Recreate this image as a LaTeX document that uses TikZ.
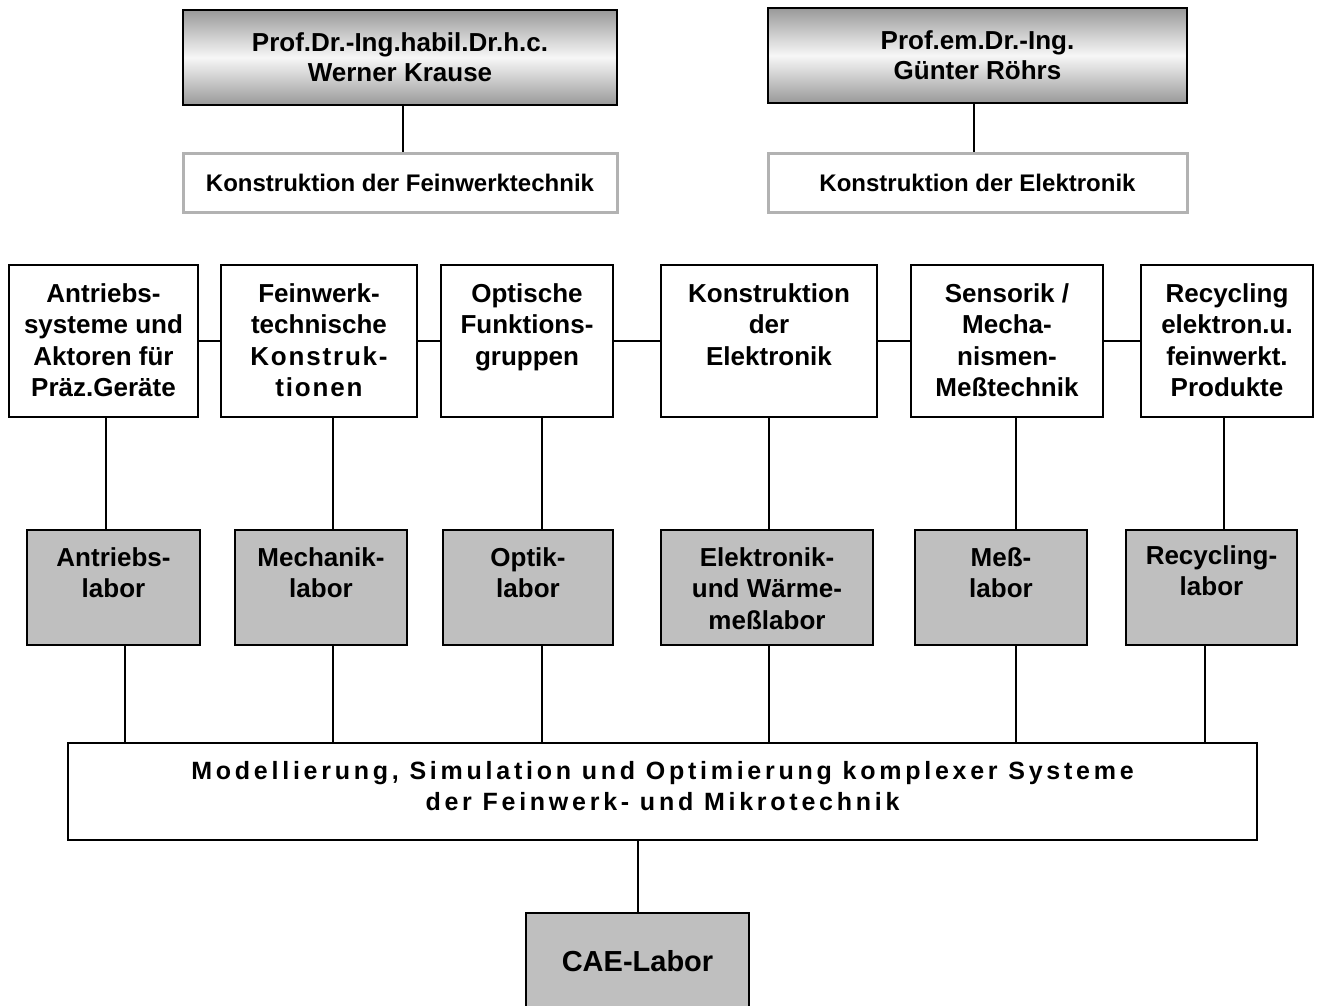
\documentclass[tikz,border=0pt]{standalone}
\usepackage{fontspec}
\setmainfont{Liberation Sans}
\newfontfamily\spacedfont{Liberation Sans}[LetterSpace=15]
\newfontfamily\lspacedfont{Liberation Sans}[LetterSpace=7]
\begin{document}
\begin{tikzpicture}[x=1pt,y=-1pt,
  profbox/.style={draw=black, line width=2pt, top color=gray!80, bottom color=gray!80, middle color=gray!6, minimum width=#1, minimum height=95pt, inner sep=0pt, align=center, font=\fontsize{26}{30}\selectfont\bfseries},
  chairbox/.style={draw=gray!60, line width=3pt, fill=white, minimum width=#1, minimum height=59pt, inner sep=0pt, font=\fontsize{24}{28}\selectfont\bfseries},
  rowbox/.style={draw=black, line width=2pt, fill=white, minimum width=#1, minimum height=152pt, inner sep=0pt},
  labbox/.style={draw=black, line width=2pt, fill=gray!50, minimum width=#1, minimum height=115pt, inner sep=0pt},
  boxtxt/.style={anchor=north, inner sep=0pt, align=center, font=\fontsize{26}{31.5}\selectfont\bfseries},
  conn/.style={draw=black, line width=1.4pt}
]
\useasboundingbox (0,0) rectangle (1318,1005);

% top
\node[profbox=434pt] (p1) at (400,57.5) {Prof.Dr.-Ing.habil.Dr.h.c.\\Werner Krause};
\node[chairbox=434pt] (k1) at (400,182.5) {Konstruktion der Feinwerktechnik};
\node[profbox=419pt] (p2) at (977.5,55.5) {Prof.em.Dr.-Ing.\\Günter Röhrs};
\node[chairbox=419pt] (k2) at (977.5,182.5) {Konstruktion der Elektronik};
\coordinate (x1) at (403,0);
\coordinate (x2) at (974,0);
\draw[conn] (x1 |- p1.south) -- (x1 |- k1.north);
\draw[conn] (x2 |- p2.south) -- (x2 |- k2.north);

% row boxes
\node[rowbox=189pt] (r1) at (103.5,341) {};
\node[rowbox=196pt] (r2) at (319,341) {};
\node[rowbox=172pt] (r3) at (527,341) {};
\node[rowbox=216pt] (r4) at (769,341) {};
\node[rowbox=192pt] (r5) at (1007,341) {};
\node[rowbox=172pt] (r6) at (1227,341) {};
\node[boxtxt] (t1) at ([yshift=-19pt]r1.north) {Antriebs-\\systeme und\\Aktoren für\\Präz.Geräte};
\node[boxtxt] (t2) at ([yshift=-19pt]r2.north) {Feinwerk-\\technische\\{\lspacedfont\bfseries Konstruk-}\\{\lspacedfont\bfseries tionen}};
\node[boxtxt] (t3) at ([yshift=-19pt]r3.north) {Optische\\Funktions-\\gruppen};
\node[boxtxt] (t4) at ([yshift=-19pt]r4.north) {Konstruktion\\der\\Elektronik};
\node[boxtxt] (t5) at ([yshift=-19pt]r5.north) {Sensorik /\\Mecha-\\nismen-\\Meßtechnik};
\node[boxtxt] (t6) at ([yshift=-19pt]r6.north) {Recycling\\elektron.u.\\feinwerkt.\\Produkte};
\draw[conn] (r1.east) -- (r2.west);
\draw[conn] (r2.east) -- (r3.west);
\draw[conn] (r3.east) -- (r4.west);
\draw[conn] (r4.east) -- (r5.west);
\draw[conn] (r5.east) -- (r6.west);

% labs
\node[labbox=173pt] (l1) at (113.5,587.5) {};
\node[labbox=172pt] (l2) at (321,587.5) {};
\node[labbox=170pt] (l3) at (528,587.5) {};
\node[labbox=212pt] (l4) at (767,587.5) {};
\node[labbox=172pt] (l5) at (1001,587.5) {};
\node[labbox=171pt] (l6) at (1211.5,587.5) {};
\node[boxtxt] (u1) at ([yshift=-18pt]l1.north) {Antriebs-\\labor};
\node[boxtxt] (u2) at ([yshift=-18pt]l2.north) {Mechanik-\\labor};
\node[boxtxt] (u3) at ([yshift=-18pt]l3.north) {Optik-\\labor};
\node[boxtxt] (u4) at ([yshift=-18pt]l4.north) {Elektronik-\\und Wärme-\\meßlabor};
\node[boxtxt] (u5) at ([yshift=-18pt]l5.north) {Meß-\\labor};
\node[boxtxt] (u6) at ([yshift=-16pt]l6.north) {Recycling-\\labor};

% model and CAE
\node[draw=black, line width=2pt, fill=white, minimum width=1189pt, minimum height=97pt, inner sep=0pt] (m) at (662.5,791.5) {};
\node[anchor=north, inner sep=0pt, align=center, font=\fontsize{25}{31}\spacedfont\bfseries] (mt) at ([yshift=-19pt]m.north) {Modellierung, Simulation und Optimierung komplexer Systeme\\der Feinwerk- und Mikrotechnik};
\node[draw=black, line width=2pt, fill=gray!50, minimum width=223pt, minimum height=96pt, inner sep=0pt, font=\fontsize{29}{32}\selectfont\bfseries] (cae) at (637.5,961) {CAE-Labor};
\coordinate (x3) at (638,0);
\draw[conn] (x3 |- m.south) -- (x3 |- cae.north);

% vertical connectors
\coordinate (a1) at (106,0);
\coordinate (a2) at (333,0);
\coordinate (a3) at (542,0);
\coordinate (a4) at (769,0);
\coordinate (a5) at (1016,0);
\coordinate (a6) at (1224,0);
\coordinate (b1) at (125,0);
\coordinate (b6) at (1205,0);
\draw[conn] (a1 |- r1.south) -- (a1 |- l1.north);
\draw[conn] (a2 |- r2.south) -- (a2 |- l2.north);
\draw[conn] (a3 |- r3.south) -- (a3 |- l3.north);
\draw[conn] (a4 |- r4.south) -- (a4 |- l4.north);
\draw[conn] (a5 |- r5.south) -- (a5 |- l5.north);
\draw[conn] (a6 |- r6.south) -- (a6 |- l6.north);
\draw[conn] (b1 |- l1.south) -- (b1 |- m.north);
\draw[conn] (a2 |- l2.south) -- (a2 |- m.north);
\draw[conn] (a3 |- l3.south) -- (a3 |- m.north);
\draw[conn] (a4 |- l4.south) -- (a4 |- m.north);
\draw[conn] (a5 |- l5.south) -- (a5 |- m.north);
\draw[conn] (b6 |- l6.south) -- (b6 |- m.north);
\end{tikzpicture}
\end{document}
